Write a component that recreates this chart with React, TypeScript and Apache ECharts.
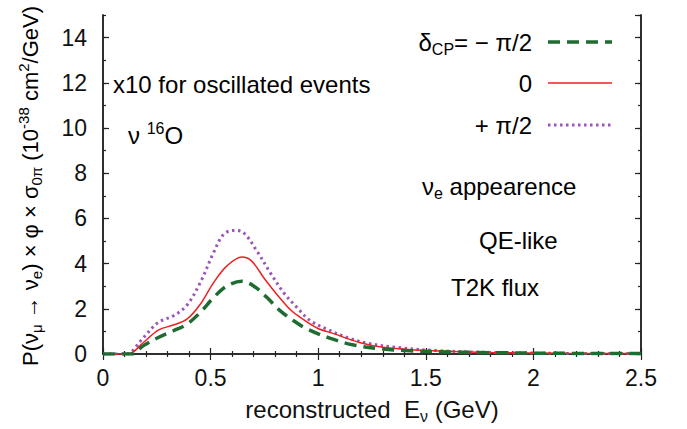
import React, { useEffect, useRef } from "react";
import * as echarts from "echarts";

const FONT = "'Liberation Sans', Arial, Helvetica, sans-serif";

// delta_CP = -pi/2 (green dashed)
const energyMinus = [0, 0.1, 0.134, 0.188, 0.257, 0.327, 0.39, 0.452, 0.514, 0.576, 0.646, 0.7, 0.762, 0.824, 0.886, 0.95, 1.057, 1.165, 1.3, 1.41, 1.6, 1.8, 2.1, 2.5];
const valueMinus = [0, 0, 0, 0.37, 0.73, 1.03, 1.32, 1.84, 2.5, 3.01, 3.22, 3.01, 2.5, 1.91, 1.47, 1.1, 0.69, 0.4, 0.22, 0.15, 0.09, 0.06, 0.03, 0.02];

// delta_CP = 0 (red solid)
const energyZero = [0, 0.1, 0.118, 0.188, 0.257, 0.327, 0.39, 0.452, 0.514, 0.576, 0.646, 0.69, 0.752, 0.814, 0.876, 0.92, 0.995, 1.072, 1.196, 1.3, 1.507, 1.786, 2.16, 2.5];
const valueZero = [0, 0, 0, 0.51, 1.06, 1.28, 1.54, 2.2, 3.16, 3.9, 4.29, 4.12, 3.31, 2.57, 1.91, 1.6, 1.15, 0.9, 0.5, 0.3, 0.15, 0.07, 0.03, 0.02];

// delta_CP = +pi/2 (purple dotted)
const energyPlus = [0, 0.1, 0.11, 0.188, 0.257, 0.327, 0.39, 0.452, 0.514, 0.56, 0.607, 0.653, 0.715, 0.777, 0.839, 0.901, 0.964, 1.04, 1.134, 1.227, 1.367, 1.55, 1.8, 2.1, 2.5];
const valuePlus = [0, 0, 0, 0.73, 1.4, 1.69, 2.16, 3.16, 4.49, 5.29, 5.47, 5.37, 4.56, 3.6, 2.72, 2.06, 1.47, 1.1, 0.73, 0.48, 0.29, 0.15, 0.07, 0.03, 0.02];

const legendLabels = ["{m|δ}{s|CP}{m|= − π/2}", "{m|0}", "{m|+ π/2}"];
const seriesNames = ["δCP = −π/2", "δCP = 0", "δCP = +π/2"];
const colors = ["#1f6b32", "#ee2020", "#9a56b8"];

const zip = (xs: number[], ys: number[]) => xs.map((x, i) => [x, ys[i]]);

const richBase = {
  m: { fontSize: 24, fontFamily: FONT, color: "#111", lineHeight: 30 },
  s: { fontSize: 16, fontFamily: FONT, color: "#111", lineHeight: 14, verticalAlign: "bottom" },
  p: { fontSize: 16, fontFamily: FONT, color: "#111", lineHeight: 14, verticalAlign: "top" },
};
const richTitle = {
  m: { fontSize: 22, fontFamily: FONT, color: "#111", lineHeight: 28 },
  s: { fontSize: 15, fontFamily: FONT, color: "#111", lineHeight: 13, verticalAlign: "bottom" },
  p: { fontSize: 15, fontFamily: FONT, color: "#111", lineHeight: 13, verticalAlign: "top" },
};

export default function App() {
  const ref = useRef<HTMLDivElement>(null);
  useEffect(() => {
    if (!ref.current) return;
    const chart = echarts.init(ref.current, undefined, { renderer: "svg" });
    const axisLine = { show: true, lineStyle: { color: "#222", width: 1.5 } };
    const majorTick = { show: true, inside: true, length: 6, lineStyle: { color: "#222", width: 1.2 } };
    const minorTickY = { show: true, inside: true, length: 3, lineStyle: { color: "#222", width: 1.2 } };
    const xBase = {
      type: "value" as const,
      min: 0,
      max: 2.5,
      interval: 0.5,
      axisLine,
      axisTick: majorTick,
      minorTick: { show: true, splitNumber: 5, length: 3, lineStyle: { color: "#222", width: 1.2 } },
      splitLine: { show: false },
      minorSplitLine: { show: false },
    };
    const yMajor = (pos: "left" | "right", labels: boolean) => ({
      type: "value" as const,
      position: pos,
      min: 0,
      max: 15,
      interval: 2,
      axisLine,
      axisTick: majorTick,
      splitLine: { show: false },
      axisLabel: labels
        ? { show: true, margin: 16, fontSize: 23, fontFamily: FONT, color: "#111", showMaxLabel: false }
        : { show: false },
    });
    const yMinor = (pos: "left" | "right") => ({
      type: "value" as const,
      position: pos,
      min: 0,
      max: 15,
      interval: 1,
      axisLine,
      axisTick: minorTickY,
      splitLine: { show: false },
      axisLabel: { show: false },
    });

    const lineStyles = [
      { color: colors[0], width: 3.5, type: [12, 7] as number[] },
      { color: colors[1], width: 1.5, type: "solid" as const },
      { color: colors[2], width: 3, type: [2.5, 3.5] as number[] },
    ];
    const datasets = [zip(energyMinus, valueMinus), zip(energyZero, valueZero), zip(energyPlus, valuePlus)];
    const legendY = [42, 83, 125];

    const graphics: any[] = [];
    legendLabels.forEach((t, i) => {
      graphics.push({
        type: "text",
        x: 532,
        y: legendY[i],
        style: { text: t, rich: richBase, align: "right", verticalAlign: "middle" },
      });
      graphics.push({
        type: "line",
        shape: { x1: 548, y1: legendY[i], x2: 612, y2: legendY[i] },
        style: { stroke: colors[i], lineWidth: lineStyles[i].width, lineDash: Array.isArray(lineStyles[i].type) ? lineStyles[i].type : null },
      });
    });
    graphics.push(
      { type: "text", x: 113, y: 84, style: { text: "{m|x10 for oscillated events}", rich: richBase, align: "left", verticalAlign: "middle" } },
      { type: "text", x: 128, y: 135, style: { text: "{m|ν }{p|16}{m|O}", rich: richBase, align: "left", verticalAlign: "middle" } },
      { type: "text", x: 422, y: 186, style: { text: "{m|ν}{s|e}{m| appearence}", rich: richBase, align: "left", verticalAlign: "middle" } },
      { type: "text", x: 479, y: 240, style: { text: "{m|QE-like}", rich: richBase, align: "left", verticalAlign: "middle" } },
      { type: "text", x: 451, y: 287, style: { text: "{m|T2K flux}", rich: richBase, align: "left", verticalAlign: "middle" } },
      {
        type: "text",
        x: 30,
        y: 186,
        rotation: Math.PI / 2,
        style: {
          text: "{m|P(ν}{s|μ}{m| → ν}{s|e}{m|) × φ × σ}{s|0π}{m| (10}{p|-38}{m| cm}{p|2}{m|/GeV)}",
          rich: richTitle,
          align: "center",
          verticalAlign: "middle",
        },
      }
    );

    chart.setOption({
      animation: false,
      backgroundColor: "#fff",
      grid: { left: 103, right: 46, top: 15, bottom: 74 },
      xAxis: [
        {
          ...xBase,
          position: "bottom",
          axisLabel: { show: true, margin: 12, fontSize: 23, fontFamily: FONT, color: "#111" },
          name: "{m|reconstructed  E}{s|ν}{m| (GeV)}",
          nameLocation: "middle",
          nameGap: 40,
          nameTextStyle: { rich: richBase },
        },
        { ...xBase, position: "top", axisLabel: { show: false } },
      ],
      yAxis: [yMajor("left", true), yMinor("left"), yMajor("right", false), yMinor("right")],
      series: datasets.map((d, i) => ({
        name: seriesNames[i],
        type: "line",
        xAxisIndex: 0,
        yAxisIndex: 0,
        data: d,
        smooth: 0.35,
        showSymbol: false,
        symbol: "none",
        lineStyle: lineStyles[i],
        z: 3 - i,
      })),
      graphic: graphics,
    });
    return () => chart.dispose();
  }, []);
  return <div ref={ref} style={{ position: "fixed", left: 0, top: 0, width: 687, height: 429, background: "#fff" }} />;
}
